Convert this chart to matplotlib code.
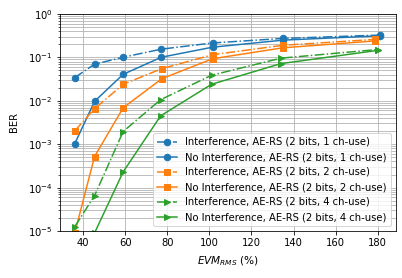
import numpy as np
import matplotlib
matplotlib.use("Agg")
import matplotlib.pyplot as plt

# EVM values (%) for each series
evm = [36.0, 45.4, 59.0, 77.2, 101.5, 135.0, 181.2]
evm_orange = [36.0, 45.4, 59.0, 77.5, 101.5, 134.8, 178.8]
evm_green = [36.0, 45.4, 59.0, 76.8, 101.0, 134.0, 180.0]

# BER values
ber_int_1 = [0.0343, 0.0697, 0.101, 0.155, 0.215, 0.274, 0.327]
ber_noint_1 = [0.00103, 0.0097, 0.0408, 0.101, 0.172, 0.25, 0.315]
ber_int_2 = [0.00203, 0.00656, 0.024, 0.0553, 0.115, 0.19, 0.26]
ber_noint_2 = [9.0e-6, 5.2e-4, 0.0069, 0.0325, 0.093, 0.166, 0.24]
ber_int_4 = [1.26e-5, 6.5e-5, 0.00196, 0.0106, 0.0387, 0.096, 0.152]
ber_noint_4 = [1.0e-6, 9.0e-6, 2.3e-4, 0.0045, 0.024, 0.072, 0.145]

labels = [
    "Interference, AE-RS (2 bits, 1 ch-use)",
    "No Interference, AE-RS (2 bits, 1 ch-use)",
    "Interference, AE-RS (2 bits, 2 ch-use)",
    "No Interference, AE-RS (2 bits, 2 ch-use)",
    "Interference, AE-RS (2 bits, 4 ch-use)",
    "No Interference, AE-RS (2 bits, 4 ch-use)",
]

fig = plt.figure(figsize=(402 / 72, 278 / 72), dpi=72)
ax = fig.add_axes([59.5 / 402, 1 - 231 / 278, (395.5 - 59.5) / 402, (231 - 14) / 278])

ax.semilogy(evm, ber_int_1, "-.o", color="C0", markersize=6.5, label=labels[0])
ax.semilogy(evm, ber_noint_1, "-o", color="C0", markersize=6.5, label=labels[1])
ax.semilogy(evm_orange, ber_int_2, "-.s", color="C1", markersize=6.5, label=labels[2])
ax.semilogy(evm_orange, ber_noint_2, "-s", color="C1", markersize=6.5, label=labels[3])
ax.semilogy(evm_green, ber_int_4, "-.>", color="C2", markersize=6.5, label=labels[4])
ax.semilogy(evm_green, ber_noint_4, "->", color="C2", markersize=6.5, label=labels[5])

ax.set_ylim(1e-5, 1)
ax.set_xticks([40, 60, 80, 100, 120, 140, 160, 180])
ax.grid(True, which="both")
ax.set_xlabel(r"$EVM_{RMS}$ (%)", fontsize=10.5, labelpad=6)
ax.set_ylabel("BER", labelpad=9)
ax.legend(loc="lower right")

fig.savefig("out.png", dpi=72)
